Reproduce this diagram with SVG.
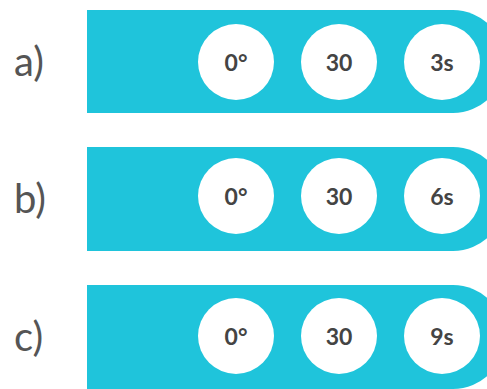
<svg xmlns="http://www.w3.org/2000/svg" width="487" height="389" viewBox="0 0 487 389">
<style>
.bar{fill:#1FC4DB}
.dot{fill:#FFFFFF}
.lab{font-family:Lato,"Open Sans",sans-serif;font-size:40px;fill:#555555}
.val{font-family:Lato,"Open Sans",sans-serif;font-size:23px;font-weight:bold;fill:#444444;text-anchor:middle;dominant-baseline:central}
</style>
<rect width="487" height="389" fill="#FFFFFF"/>
<g id="row-a">
<text class="lab" x="14" y="76">a)</text>
<path class="bar" d="M87 10 H453 A51.5 51.5 0 0 1 453 113 H87 Z"/>
<circle class="dot" cx="236" cy="62" r="38"/><text class="val" x="236" y="62">0°</text>
<circle class="dot" cx="339" cy="62" r="38"/><text class="val" x="339" y="62">30</text>
<circle class="dot" cx="442" cy="62" r="38"/><text class="val" x="442" y="62">3s</text>
</g>
<g id="row-b">
<text class="lab" x="14" y="213">b)</text>
<path class="bar" d="M87 147 H453 A52 52 0 0 1 453 251 H87 Z"/>
<circle class="dot" cx="236" cy="196" r="38"/><text class="val" x="236" y="196">0°</text>
<circle class="dot" cx="339" cy="196" r="38"/><text class="val" x="339" y="196">30</text>
<circle class="dot" cx="442" cy="196" r="38"/><text class="val" x="442" y="196">6s</text>
</g>
<g id="row-c">
<text class="lab" x="14" y="351">c)</text>
<path class="bar" d="M87 285 H453 A52 52 0 0 1 453 389 H87 Z"/>
<circle class="dot" cx="236" cy="336" r="38"/><text class="val" x="236" y="336">0°</text>
<circle class="dot" cx="339" cy="336" r="38"/><text class="val" x="339" y="336">30</text>
<circle class="dot" cx="442" cy="336" r="38"/><text class="val" x="442" y="336">9s</text>
</g>
<g id="connectors"/>
</svg>
